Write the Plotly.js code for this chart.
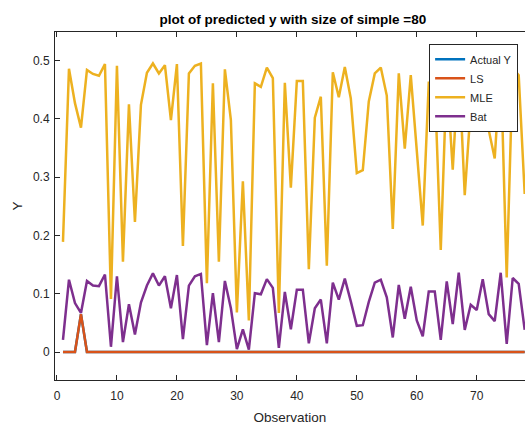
<!DOCTYPE html>
<html>
<head>
<meta charset="utf-8">
<script src="https://cdn.plot.ly/plotly-3.0.1.min.js"></script>
<style>
  html, body { margin: 0; padding: 0; background: #fff; overflow: hidden; }
  #chart { width: 525px; height: 425px; }
</style>
</head>
<body>
<div id="chart"></div>
<script>
// Observation index (the figure is cropped at the right, last visible point is 78)
var observation = [];
for (var k = 1; k <= 78; k++) observation.push(k);

var actualY = [0,0,0,0.065,0,0,0,0,0,0, 0,0,0,0,0,0,0,0,0,0,
               0,0,0,0,0,0,0,0,0,0, 0,0,0,0,0,0,0,0,0,0,
               0,0,0,0,0,0,0,0,0,0, 0,0,0,0,0,0,0,0,0,0,
               0,0,0,0,0,0,0,0,0,0, 0,0,0,0,0,0,0,0];

var lsY = [0,0,0,0.065,0,0,0,0,0,0, 0,0,0,0,0,0,0,0,0,0,
           0,0,0,0,0,0,0,0,0,0, 0,0,0,0,0,0,0,0,0,0,
           0,0,0,0,0,0,0,0,0,0, 0,0,0,0,0,0,0,0,0,0,
           0,0,0,0,0,0,0,0,0,0, 0,0,0,0,0,0,0,0];

var mleY = [0.189,0.486,0.427,0.385,0.484,0.477,0.474,0.494,0.091,0.491,
            0.155,0.425,0.223,0.424,0.479,0.495,0.478,0.492,0.398,0.494,
            0.182,0.478,0.491,0.495,0.118,0.461,0.155,0.485,0.398,0.068,
            0.293,0.054,0.461,0.455,0.488,0.470,0.067,0.462,0.282,0.465,
            0.465,0.142,0.402,0.438,0.148,0.480,0.437,0.489,0.435,0.307,
            0.312,0.430,0.478,0.488,0.440,0.211,0.478,0.349,0.475,0.345,
            0.217,0.462,0.462,0.175,0.478,0.313,0.497,0.269,0.420,0.393,
            0.485,0.381,0.332,0.497,0.128,0.487,0.475,0.271];

var batY = [0.021,0.124,0.084,0.067,0.122,0.114,0.113,0.133,0.009,0.130,
            0.017,0.082,0.030,0.085,0.114,0.135,0.114,0.130,0.075,0.132,
            0.022,0.114,0.130,0.134,0.012,0.101,0.017,0.122,0.075,0.005,
            0.039,0.004,0.101,0.099,0.125,0.110,0.007,0.103,0.039,0.107,
            0.107,0.015,0.075,0.090,0.015,0.119,0.090,0.126,0.087,0.045,
            0.046,0.086,0.119,0.124,0.094,0.025,0.115,0.057,0.112,0.054,
            0.027,0.104,0.104,0.021,0.121,0.048,0.136,0.038,0.081,0.072,
            0.125,0.065,0.053,0.136,0.014,0.127,0.117,0.038];

var seriesNames = ['Actual Y', 'LS', 'MLE', 'Bat'];
var seriesColors = ['#0072BD', '#D95319', '#EDB120', '#7E2F8E'];
var seriesData = [actualY, lsY, mleY, batY];

var yTicks = [0, 0.1, 0.2, 0.3, 0.4, 0.5];
var yTickText = ['0', '0.1', '0.2', '0.3', '0.4', '0.5'];
var xTicks = [0, 10, 20, 30, 40, 50, 60, 70];

var traces = seriesData.map(function (d, i) {
  return {
    x: observation,
    y: d,
    type: 'scatter',
    mode: 'lines',
    name: seriesNames[i],
    line: { color: seriesColors[i], width: 2.5 }
  };
});

var axisColor = '#262626';
var fontFam = '"Liberation Sans", Arial, Helvetica, sans-serif';

var layout = {
  width: 525,
  height: 425,
  margin: { l: 55, r: 0, t: 32, b: 45, pad: 0 },
  paper_bgcolor: '#ffffff',
  plot_bgcolor: '#ffffff',
  font: { family: fontFam, size: 12, color: axisColor },
  title: {
    text: '<b>plot of predicted y with size of simple =80</b>',
    font: { family: fontFam, size: 13.5, color: '#000000' },
    xref: 'container', x: 0.558, xanchor: 'center',
    yref: 'container', y: 0.955, yanchor: 'middle'
  },
  showlegend: true,
  legend: {
    x: 0.796, xanchor: 'left',
    y: 0.966, yanchor: 'top',
    bgcolor: '#ffffff',
    bordercolor: axisColor,
    borderwidth: 1,
    font: { family: fontFam, size: 11, color: axisColor },
    tracegroupgap: 0
  },
  xaxis: {
    range: [-0.33, 78.05],
    tickvals: xTicks,
    ticks: 'inside',
    ticklen: 5,
    tickcolor: axisColor,
    ticklabelstandoff: 5,
    showline: true,
    linecolor: axisColor,
    linewidth: 1,
    mirror: 'ticks',
    showgrid: false,
    zeroline: false,
    tickfont: { family: fontFam, size: 12, color: axisColor },
    title: { text: 'Observation', font: { family: fontFam, size: 13.5, color: axisColor }, standoff: 10 }
  },
  yaxis: {
    range: [-0.048, 0.549],
    tickvals: yTicks,
    ticktext: yTickText,
    ticks: 'inside',
    ticklen: 5,
    tickcolor: axisColor,
    ticklabelstandoff: 2,
    showline: true,
    linecolor: axisColor,
    linewidth: 1,
    mirror: false,
    showgrid: false,
    zeroline: false,
    tickfont: { family: fontFam, size: 12, color: axisColor },
    title: { text: 'Y', font: { family: fontFam, size: 13.5, color: axisColor }, standoff: 7 }
  }
};

Plotly.newPlot('chart', traces, layout, { displayModeBar: false, staticPlot: true });
</script>
</body>
</html>
